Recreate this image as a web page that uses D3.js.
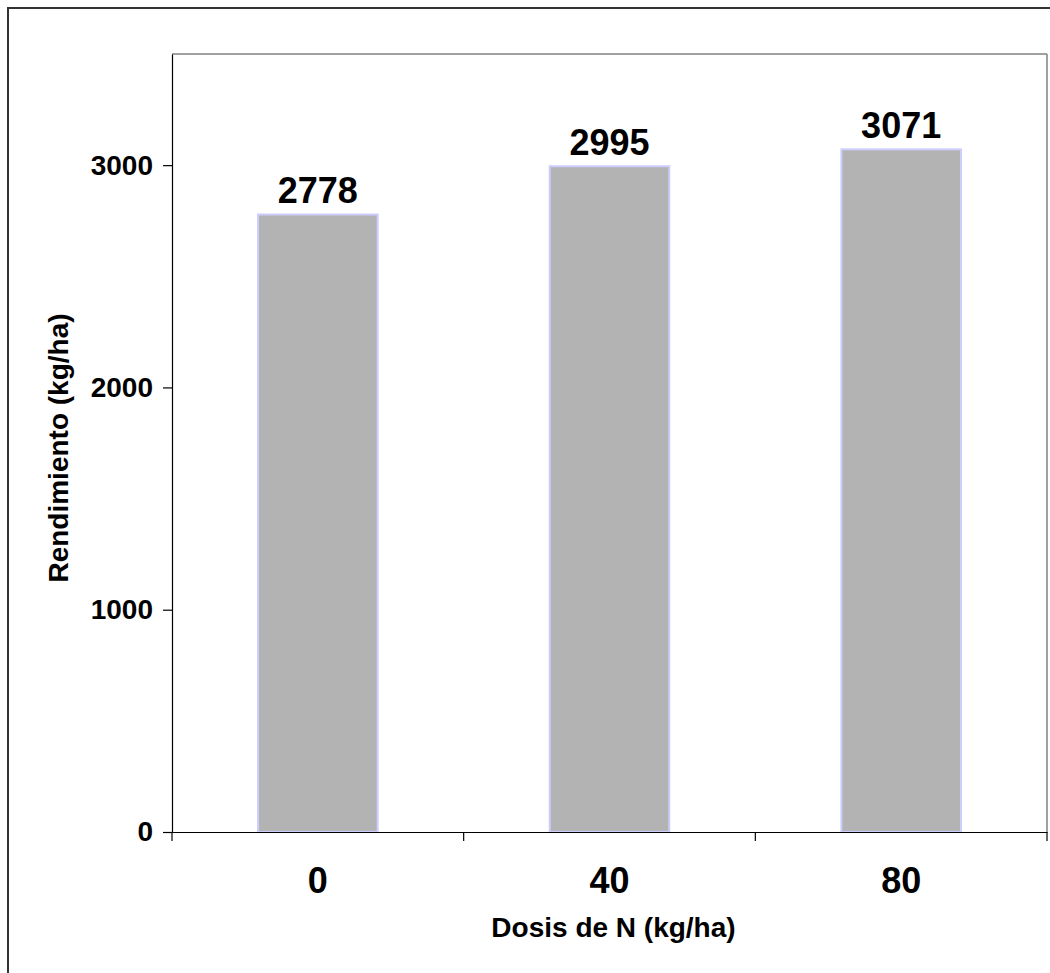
<!DOCTYPE html>
<html>
<head>
<meta charset="utf-8">
<script src="https://cdn.jsdelivr.net/npm/d3@7"></script>
<style>
  html, body { margin: 0; padding: 0; background: #fff; }
  svg { display: block; font-family: Arial, "Liberation Sans", sans-serif; }
</style>
</head>
<body>
<script>
const categories = ["0", "40", "80"];
const values = [2778, 2995, 3071];
const yTicks = [0, 1000, 2000, 3000];
const xTitle = "Dosis de N (kg/ha)";
const yTitle = "Rendimiento (kg/ha)";

const W = 1050, H = 973;
const plot = { left: 172, right: 1047, top: 54, bottom: 832 };

const svg = d3.select("body").append("svg").attr("width", W).attr("height", H);

// outer chart border (left/top visible)
svg.append("rect").attr("x", 8).attr("y", 8).attr("width", W + 20).attr("height", H + 20)
  .attr("fill", "none").attr("stroke", "#333").attr("stroke-width", 2);

const x = d3.scaleBand().domain(categories).range([plot.left, plot.right]).paddingInner(0).paddingOuter(0);
const y = d3.scaleLinear().domain([0, 3500]).range([plot.bottom, plot.top]);

// plot area frame (top/right in gray)
svg.append("line").attr("x1", plot.left).attr("x2", plot.right).attr("y1", plot.top).attr("y2", plot.top)
  .attr("stroke", "#808080").attr("stroke-width", 1.5);
svg.append("line").attr("x1", plot.right).attr("x2", plot.right).attr("y1", plot.top).attr("y2", plot.bottom)
  .attr("stroke", "#808080").attr("stroke-width", 1.5);

const bw = x.bandwidth() * 0.41;
svg.selectAll("rect.bar").data(values).enter().append("rect")
  .attr("class", "bar")
  .attr("x", (d, i) => x(categories[i]) + x.bandwidth() / 2 - bw / 2)
  .attr("y", d => y(d))
  .attr("width", bw)
  .attr("height", d => y(0) - y(d))
  .attr("fill", "#b3b3b3")
  .attr("stroke", "#ccccff")
  .attr("stroke-width", 2);

svg.selectAll("text.val").data(values).enter().append("text")
  .attr("class", "val")
  .attr("x", (d, i) => x(categories[i]) + x.bandwidth() / 2)
  .attr("y", d => y(d) - 11)
  .attr("text-anchor", "middle")
  .attr("font-weight", "bold").attr("font-size", 36)
  .text(d => d);

// Y axis
const yAxis = d3.axisLeft(y).tickValues(yTicks).tickSize(9).tickSizeOuter(0).tickPadding(10).tickFormat(d3.format("d"));
const gy = svg.append("g").attr("transform", `translate(${plot.left},0)`).call(yAxis);
gy.select(".domain").attr("stroke", "#000").attr("stroke-width", 1.2);
gy.selectAll(".tick line").attr("stroke", "#000").attr("stroke-width", 1.2);
gy.selectAll(".tick text").attr("font-size", 28).attr("font-weight", "bold")
  .attr("fill", "#000").attr("font-family", "Arial, 'Liberation Sans', sans-serif");

// X axis
const gx = svg.append("g").attr("transform", `translate(0,${plot.bottom})`)
  .call(d3.axisBottom(x).tickSize(0).tickSizeOuter(0).tickPadding(0));
gx.select(".domain").attr("stroke", "#000").attr("stroke-width", 1.2);
gx.selectAll(".tick text").attr("font-size", 36).attr("font-weight", "bold")
  .attr("fill", "#000").attr("dy", 0).attr("y", 61)
  .attr("font-family", "Arial, 'Liberation Sans', sans-serif");
// boundary ticks between categories
const bounds = categories.map(c => x(c)).concat([plot.right]);
gx.selectAll("line.bt").data(bounds).enter().append("line")
  .attr("class", "bt")
  .attr("x1", d => d).attr("x2", d => d).attr("y1", 0).attr("y2", 9)
  .attr("stroke", "#000").attr("stroke-width", 1.2);

// titles
svg.append("text").attr("x", (plot.left + plot.right) / 2 + 4).attr("y", 937)
  .attr("text-anchor", "middle").attr("font-weight", "bold").attr("font-size", 28)
  .text(xTitle);
svg.append("text").attr("transform", `translate(68,${(plot.top + plot.bottom) / 2 + 5}) rotate(-90)`)
  .attr("text-anchor", "middle").attr("font-weight", "bold").attr("font-size", 28)
  .text(yTitle);
</script>
</body>
</html>
